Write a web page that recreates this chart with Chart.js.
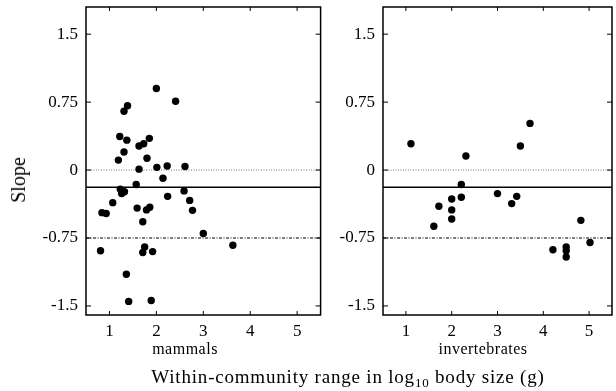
<!DOCTYPE html>
<html>
<head>
<meta charset="utf-8">
<script src="https://cdn.jsdelivr.net/npm/chart.js@4"></script>
<style>
  body { margin: 0; background: #fff; width: 616px; height: 391px; overflow: hidden; position: relative;
         font-family: "Liberation Serif", "Times New Roman", serif; color: #000; }
  .panel { position: absolute; top: 0; height: 345px; }
  #left { left: 0; width: 330px; }
  #right { left: 330px; width: 286px; }
  .lbl { position: absolute; white-space: nowrap; line-height: 1; }
  #ylab { left: 18px; top: 180px; font-size: 20px; transform: translate(-50%, -50%) rotate(-90deg); }
  #lab1 { left: 185px; top: 341px; font-size: 16px; letter-spacing: 0.5px; transform: translateX(-50%); }
  #lab2 { left: 483px; top: 341px; font-size: 16px; letter-spacing: 0.5px; transform: translateX(-50%); }
  #xlab { left: 348px; top: 367px; font-size: 19px; letter-spacing: 0.8px; transform: translateX(-50%); }
  #xlab sub { font-size: 13px; vertical-align: -4px; line-height: 0; }
</style>
</head>
<body>
<div class="panel" id="left"><canvas id="c1"></canvas></div>
<div class="panel" id="right"><canvas id="c2"></canvas></div>
<div class="lbl" id="ylab">Slope</div>
<div class="lbl" id="lab1">mammals</div>
<div class="lbl" id="lab2">invertebrates</div>
<div class="lbl" id="xlab">Within-community range in log<sub>10</sub> body size (g)</div>
<script>
// ticks and axis ranges
const xTicks = [1, 2, 3, 4, 5];
const yTicks = [-1.5, -0.75, 0, 0.75, 1.5];
const xRange = [0.5, 5.5];
const yRange = [-1.6, 1.8];

// reference lines (slope values)
const zeroSlope = 0;
const fitSlope = -0.19;
const theorySlope = -0.75;

// mammals: range in log10 body size vs slope
const mammalsX = [2.0, 2.41, 1.385, 1.31, 1.22, 1.37, 1.85, 1.63, 1.73, 1.31, 1.80, 1.19, 1.63, 2.01,
  2.23, 2.61, 2.14, 1.57, 1.23, 1.26, 1.32, 2.24, 2.59, 2.71, 2.77, 1.07, 0.84, 0.93, 1.59, 1.79,
  1.86, 1.71, 3.0, 0.81, 1.75, 1.71, 1.92, 1.36, 1.41, 1.89, 3.63];
const mammalsY = [0.90, 0.76, 0.71, 0.65, 0.37, 0.33, 0.35, 0.265, 0.29, 0.20, 0.13, 0.11, 0.01, 0.03,
  0.045, 0.04, -0.09, -0.16, -0.21, -0.26, -0.24, -0.29, -0.23, -0.335, -0.445, -0.36, -0.47, -0.48, -0.42, -0.44,
  -0.41, -0.57, -0.70, -0.89, -0.85, -0.91, -0.90, -1.15, -1.45, -1.44, -0.83];

// invertebrates
const invertX = [1.11, 2.31, 2.21, 2.21, 2.0, 1.72, 2.0, 2.0, 1.61, 3.0, 3.71, 3.5, 3.42, 3.31,
  4.82, 5.02, 4.21, 4.5, 4.5, 4.5];
const invertY = [0.29, 0.155, -0.16, -0.30, -0.32, -0.40, -0.44, -0.54, -0.62, -0.26, 0.515, 0.265, -0.29, -0.37,
  -0.555, -0.80, -0.88, -0.85, -0.89, -0.96];

const serif = '"Liberation Serif", "Times New Roman", serif';

// box round the plot with small inward ticks on all four sides
const framePlugin = {
  id: 'frame',
  afterDatasetsDraw(chart) {
    const { ctx, chartArea: a, scales } = chart;
    ctx.save();
    ctx.strokeStyle = '#000';
    ctx.lineWidth = 1.5;
    ctx.strokeRect(a.left, a.top, a.right - a.left, a.bottom - a.top);
    ctx.lineWidth = 1;
    ctx.beginPath();
    scales.x.ticks.forEach(t => {
      const px = scales.x.getPixelForValue(t.value);
      ctx.moveTo(px, a.bottom); ctx.lineTo(px, a.bottom - 4);
      ctx.moveTo(px, a.top); ctx.lineTo(px, a.top + 4);
    });
    scales.y.ticks.forEach(t => {
      const py = scales.y.getPixelForValue(t.value);
      ctx.moveTo(a.left, py); ctx.lineTo(a.left + 5, py);
      ctx.moveTo(a.right, py); ctx.lineTo(a.right - 5, py);
    });
    ctx.stroke();
    ctx.restore();
  }
};

function hLine(value, color, dash, width) {
  return {
    type: 'line',
    data: xRange.map(x => ({ x: x, y: value })),
    borderColor: color,
    borderWidth: width,
    borderDash: dash,
    pointRadius: 0,
    fill: false
  };
}

// no extra room for half tick labels, so the plot box sits where we put it
function noPad(s) {
  s.paddingTop = 0; s.paddingBottom = 0; s.paddingLeft = 0; s.paddingRight = 0;
}

function makeChart(id, xs, ys, axisWidth, padRight) {
  const ctx = document.getElementById(id).getContext('2d');
  return new Chart(ctx, {
    type: 'scatter',
    data: {
      datasets: [
        {
          data: xs.map((x, i) => ({ x: x, y: ys[i] })),
          backgroundColor: '#000',
          borderColor: '#000',
          pointRadius: 3.7,
          pointBorderWidth: 0
        },
        hLine(fitSlope, '#000', [], 1.5),
        hLine(zeroSlope, '#777', [1, 1.5], 1),
        hLine(theorySlope, '#000', [3, 1.5, 1, 1.5], 1.2)
      ]
    },
    options: {
      responsive: true,
      maintainAspectRatio: false,
      animation: false,
      layout: { padding: { top: 7, right: padRight, left: 0, bottom: 0 } },
      plugins: { legend: { display: false }, tooltip: { enabled: false } },
      scales: {
        x: {
          type: 'linear',
          min: xRange[0],
          max: xRange[1],
          afterBuildTicks: s => { s.ticks = xTicks.map(v => ({ value: v })); },
          afterFit: s => { s.height = 30; noPad(s); },
          grid: { display: false, drawTicks: false },
          border: { display: false },
          ticks: { padding: 6, color: '#000', font: { family: serif, size: 17 }, callback: v => String(v) }
        },
        y: {
          type: 'linear',
          min: yRange[0],
          max: yRange[1],
          afterBuildTicks: s => { s.ticks = yTicks.map(v => ({ value: v })); },
          afterFit: s => { s.width = axisWidth; noPad(s); },
          grid: { display: false, drawTicks: false },
          border: { display: false },
          ticks: { padding: 8, color: '#000', font: { family: serif, size: 17 }, callback: v => String(v) }
        }
      }
    },
    plugins: [framePlugin]
  });
}

makeChart('c1', mammalsX, mammalsY, 86, 9.4);
makeChart('c2', invertX, invertY, 53, 0.75);
</script>
</body>
</html>
